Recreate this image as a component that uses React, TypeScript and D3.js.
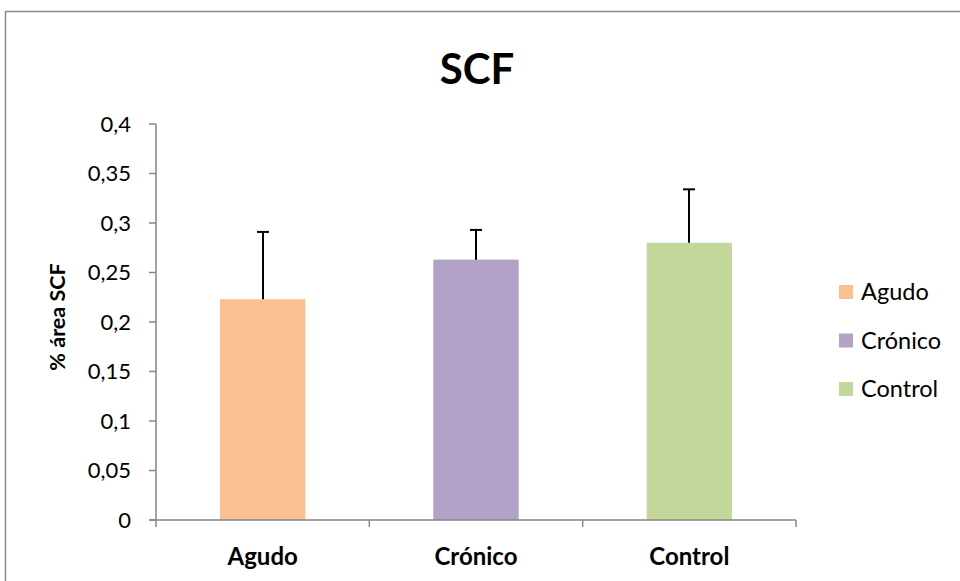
import React from "react";
import * as d3 from "d3";

const categories = ["Agudo", "Crónico", "Control"];
const values = [0.223, 0.263, 0.28];
const errors = [0.068, 0.03, 0.054];
const colors = ["#FAC090", "#B3A2C7", "#C4D79B"];
const yTicks = [0, 0.05, 0.1, 0.15, 0.2, 0.25, 0.3, 0.35, 0.4];
const title = "SCF";
const yLabel = "% área SCF";

const W = 960, H = 581;
const plot = { left: 156, right: 796, top: 124, bottom: 520 };
const font = "Lato, 'Open Sans', sans-serif";
const axisColor = "#868686";

export default function App() {
  const x = d3.scaleBand<string>().domain(categories).range([plot.left, plot.right]).paddingInner(0.6).paddingOuter(0.3);
  const xOuter = d3.scaleBand<string>().domain(categories).range([plot.left, plot.right]);
  const y = d3.scaleLinear().domain([0, 0.4]).range([plot.bottom, plot.top]);
  const fmt = (v: number) => String(v).replace(".", ",");
  const boundaries = [...categories.map((c) => xOuter(c)!), plot.right];
  return (
    <svg width={W} height={H} style={{ position: "absolute", left: 0, top: 0, background: "#fff" }}>
      <rect x={5.5} y={11.5} width={1000} height={1000} fill="#fff" stroke="#8c8c8c" strokeWidth={1.5} />
      <text x={477} y={84} textAnchor="middle" fontFamily={font} fontWeight="bold" fontSize={42}>{title}</text>
      {categories.map((c, i) => (
        <rect key={c} x={x(c)} y={y(values[i])} width={x.bandwidth()} height={y(0) - y(values[i])} fill={colors[i]} />
      ))}
      {categories.map((c, i) => {
        const cx = Math.round(x(c)! + x.bandwidth() / 2);
        return (
          <g key={c} stroke="#000" strokeWidth={2}>
            <line x1={cx} x2={cx} y1={y(values[i])} y2={y(values[i] + errors[i])} />
            <line x1={cx - 6} x2={cx + 6} y1={y(values[i] + errors[i])} y2={y(values[i] + errors[i])} />
          </g>
        );
      })}
      <line x1={plot.left} x2={plot.left} y1={plot.top} y2={plot.bottom} stroke={axisColor} strokeWidth={1.5} />
      {yTicks.map((t) => (
        <g key={t}>
          <line x1={plot.left - 7} x2={plot.left} y1={y(t)} y2={y(t)} stroke={axisColor} strokeWidth={1.5} />
          <text x={plot.left - 25} y={y(t)} dy="0.36em" textAnchor="end" fontFamily={font} fontSize={22} fill="#000">{fmt(t)}</text>
        </g>
      ))}
      <line x1={plot.left - 7} x2={plot.right} y1={plot.bottom} y2={plot.bottom} stroke={axisColor} strokeWidth={1.5} />
      {boundaries.map((b, i) => (
        <line key={i} x1={b} x2={b} y1={plot.bottom} y2={plot.bottom + 7} stroke={axisColor} strokeWidth={1.5} />
      ))}
      {categories.map((c) => (
        <text key={c} x={xOuter(c)! + xOuter.bandwidth() / 2} y={565} textAnchor="middle" fontFamily={font} fontWeight="bold" fontSize={24}>{c}</text>
      ))}
      <text transform={`translate(65,317) rotate(-90)`} textAnchor="middle" fontFamily={font} fontWeight="bold" fontSize={21.5}>{yLabel}</text>
      {categories.map((c, i) => (
        <g key={c} transform={`translate(839,${292 + i * 48.5})`}>
          <rect x={0} y={-7} width={14} height={14} fill={colors[i]} />
          <text x={22} y={0} dy="0.36em" fontFamily={font} fontSize={23.5}>{c}</text>
        </g>
      ))}
    </svg>
  );
}
